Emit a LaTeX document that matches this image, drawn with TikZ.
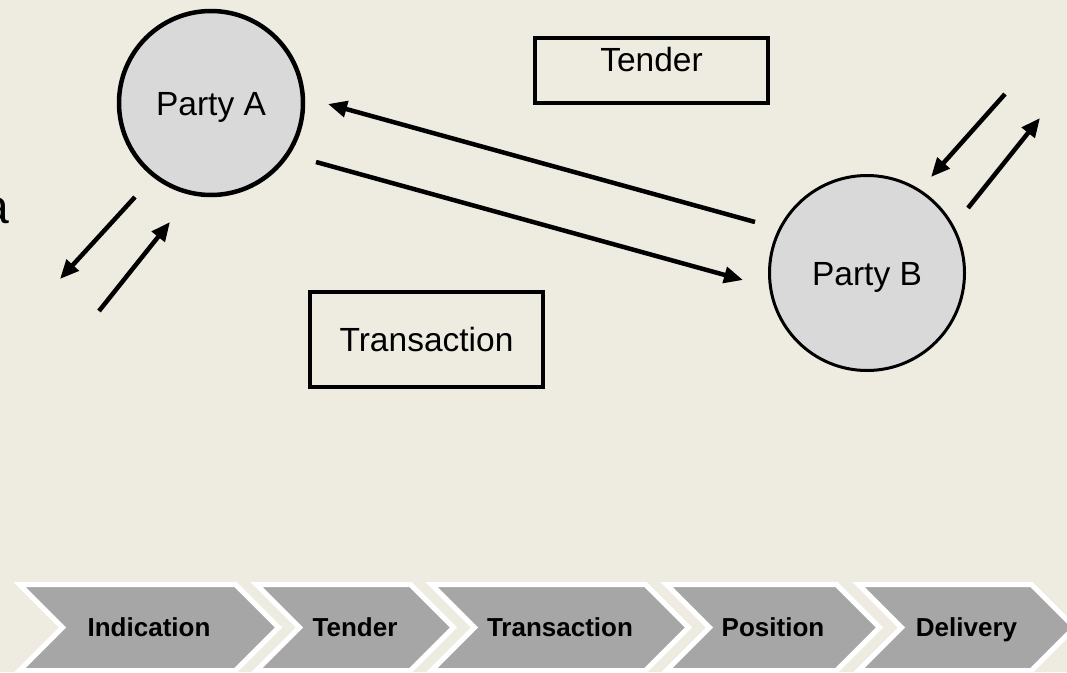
\documentclass[tikz,border=0pt]{standalone}
\usepackage{fontspec}
\setmainfont{Liberation Sans}
\usetikzlibrary{arrows.meta}
\definecolor{bg}{HTML}{EEEBE1}
\definecolor{chev}{HTML}{A6A6A6}
\definecolor{circ}{HTML}{D9D9D9}
\begin{document}
\begin{tikzpicture}[x=1pt,y=-1pt,
  party/.style={circle, draw=black, fill=circ, inner sep=0pt, font=\fontsize{33.5}{40}\selectfont, text height=24pt, text depth=0pt},
  box/.style={rectangle, draw=black, line width=3.5pt, inner sep=0pt, minimum width=233pt, font=\fontsize{33.5}{40}\selectfont},
  arr/.style={line width=4.5pt, -{Triangle[length=19pt,width=16pt]}},
  chevron/.style={fill=chev, draw=white, line width=5pt, line join=miter},
  chevtext/.style={font=\bfseries\fontsize{26}{30}\selectfont, inner sep=0pt, text height=18.6pt, text depth=0pt}
]
\useasboundingbox (0,0) rectangle (1067,672);
\clip (0,0) rectangle (1067,672);
\fill[bg] (0,0) rectangle (1067,672);

% fragment of cut-off text
\node[font=\fontsize{48}{56}\selectfont, anchor=base west, inner sep=0pt] (frag) at (-17.5,223) {a};

% process chevrons
\foreach \L/\R/\t/\n in {19.5/235.5/Indication/c1, 256.5/410.5/Tender/c2, 431.5/645.5/Transaction/c3, 666.5/836.5/Position/c4, 858.5/1031.5/Delivery/c5} {
  \path[chevron] (\L,584.5) -- (\R,584.5) -- (\R+43,627.5) -- (\R,670.5) -- (\L,670.5) -- (\L+43,627.5) -- cycle;
  \node[chevtext] (\n) at ({(\L+43+\R)/2},627.5) {\t};
}

% boxes
\node[box, minimum height=65pt, text height=20pt, text depth=19pt] (tender) at (651.5,70.5) {Tender};
\node[box, minimum height=95pt, text height=24pt, text depth=0pt] (trans) at (426.5,339.5) {Transaction};

% parties
\node[party, line width=4.5pt, minimum size=184pt] (A) at (211,103) {Party A};
\node[party, line width=3pt, minimum size=195pt] (B) at (867,273) {Party B};

% main arrows
\coordinate (ba1) at (755,222);
\coordinate (ba2) at (328,104);
\coordinate (ab1) at (316,162);
\coordinate (ab2) at (743,280);
\draw[arr] (ba1) -- (ba2);
\draw[arr] (ab1) -- (ab2);

% Party A side arrows
\coordinate (la1) at (135,197);
\coordinate (la2) at (60,279);
\coordinate (lb1) at (99,311);
\coordinate (lb2) at (170,222);
\draw[arr] (la1) -- (la2);
\draw[arr] (lb1) -- (lb2);

% Party B side arrows
\coordinate (ra1) at (1005,94);
\coordinate (ra2) at (931,177);
\coordinate (rb1) at (968,208);
\coordinate (rb2) at (1040,118);
\draw[arr] (ra1) -- (ra2);
\draw[arr] (rb1) -- (rb2);
\end{tikzpicture}
\end{document}
